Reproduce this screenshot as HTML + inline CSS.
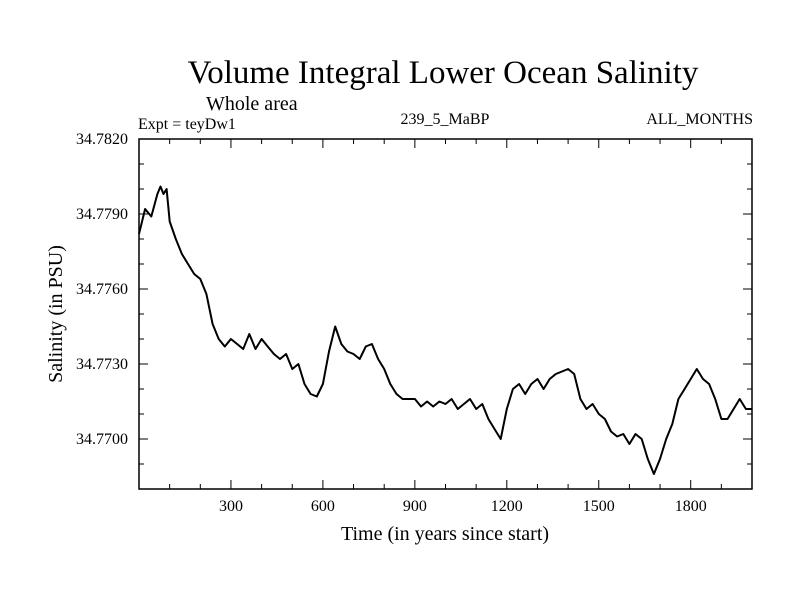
<!DOCTYPE html>
<html><head><meta charset="utf-8"><style>
body{margin:0;background:#fff}
svg text{font-family:"Liberation Serif",serif;fill:#000}
</style></head><body>
<svg id="chart" width="800" height="600">
<text x="443" y="83" font-size="33" text-anchor="middle">Volume Integral Lower Ocean Salinity</text>
<text x="206" y="110" font-size="20">Whole area</text>
<text x="138" y="129" font-size="16">Expt = teyDw1</text>
<text x="445" y="124" font-size="16" text-anchor="middle">239_5_MaBP</text>
<text x="753" y="124" font-size="16" text-anchor="end">ALL_MONTHS</text>
<text x="445" y="540" font-size="20" text-anchor="middle">Time (in years since start)</text>
<text x="0" y="0" font-size="20" text-anchor="middle" transform="translate(62,314) rotate(-90)">Salinity (in PSU)</text>
<g id="axes"></g>
<path id="line" fill="none" stroke="#000" stroke-width="2" stroke-linejoin="round"/>
</svg>
<script>
const years=[0,20,40,60,70,80,90,100,120,140,160,180,200,220,240,260,280,300,320,340,360,380,400,420,440,460,480,500,520,540,560,580,600,620,640,660,680,700,720,740,760,780,800,820,840,860,880,900,920,940,960,980,1000,1020,1040,1060,1080,1100,1120,1140,1160,1180,1200,1220,1240,1260,1280,1300,1320,1340,1360,1380,1400,1420,1440,1460,1480,1500,1520,1540,1560,1580,1600,1620,1640,1660,1680,1700,1720,1740,1760,1780,1800,1820,1840,1860,1880,1900,1920,1940,1960,1980,2000];
const salinity=[34.7782,34.7792,34.7789,34.7798,34.7801,34.7798,34.7800,34.7787,34.7780,34.7774,34.7770,34.7766,34.7764,34.7758,34.7746,34.7740,34.7737,34.7740,34.7738,34.7736,34.7742,34.7736,34.7740,34.7737,34.7734,34.7732,34.7734,34.7728,34.7730,34.7722,34.7718,34.7717,34.7722,34.7735,34.7745,34.7738,34.7735,34.7734,34.7732,34.7737,34.7738,34.7732,34.7728,34.7722,34.7718,34.7716,34.7716,34.7716,34.7713,34.7715,34.7713,34.7715,34.7714,34.7716,34.7712,34.7714,34.7716,34.7712,34.7714,34.7708,34.7704,34.7700,34.7712,34.7720,34.7722,34.7718,34.7722,34.7724,34.7720,34.7724,34.7726,34.7727,34.7728,34.7726,34.7716,34.7712,34.7714,34.7710,34.7708,34.7703,34.7701,34.7702,34.7698,34.7702,34.7700,34.7692,34.7686,34.7692,34.7700,34.7706,34.7716,34.7720,34.7724,34.7728,34.7724,34.7722,34.7716,34.7708,34.7708,34.7712,34.7716,34.7712,34.7712];
const xTicks=[300,600,900,1200,1500,1800];
const yTicks=[34.7700,34.7730,34.7760,34.7790,34.7820];
const X0=139,X1=752,Y0=139,Y1=489,xmin=0,xmax=2000,ymin=34.768,ymax=34.782;
const sx=v=>X0+(v-xmin)/(xmax-xmin)*(X1-X0);
const sy=v=>Y1-(v-ymin)/(ymax-ymin)*(Y1-Y0);
const NS="http://www.w3.org/2000/svg",g=document.getElementById('axes');
function mk(t,a){const e=document.createElementNS(NS,t);for(const k in a)e.setAttribute(k,a[k]);g.appendChild(e);return e;}
const fr=mk('rect',{x:X0,y:Y0,width:X1-X0,height:Y1-Y0,fill:'none',stroke:'#000','stroke-width':1.5});


for(let v=100;v<xmax;v+=100){const L=(v%300===0)?9:5;
 mk('line',{x1:sx(v),x2:sx(v),y1:Y1,y2:Y1-L,stroke:'#000'});
 mk('line',{x1:sx(v),x2:sx(v),y1:Y0,y2:Y0+L,stroke:'#000'});}
for(let i=1;i<14;i++){const v=ymin+i*0.001,L=(i%3===2)?9:5;
 mk('line',{x1:X0,x2:X0+L,y1:sy(v),y2:sy(v),stroke:'#000'});
 mk('line',{x1:X1,x2:X1-L,y1:sy(v),y2:sy(v),stroke:'#000'});}
xTicks.forEach(v=>{const t=mk('text',{x:sx(v),y:511,'font-size':16,'text-anchor':'middle'});t.textContent=v;
 
 });
yTicks.forEach(v=>{const t=mk('text',{x:128,y:sy(v)+5,'font-size':16,'text-anchor':'end'});t.textContent=v.toFixed(4);
 
 });
document.getElementById('line').setAttribute('d',years.map((y,i)=>(i?'L':'M')+sx(y).toFixed(1)+','+sy(salinity[i]).toFixed(1)).join(''));
</script>
</body></html>
